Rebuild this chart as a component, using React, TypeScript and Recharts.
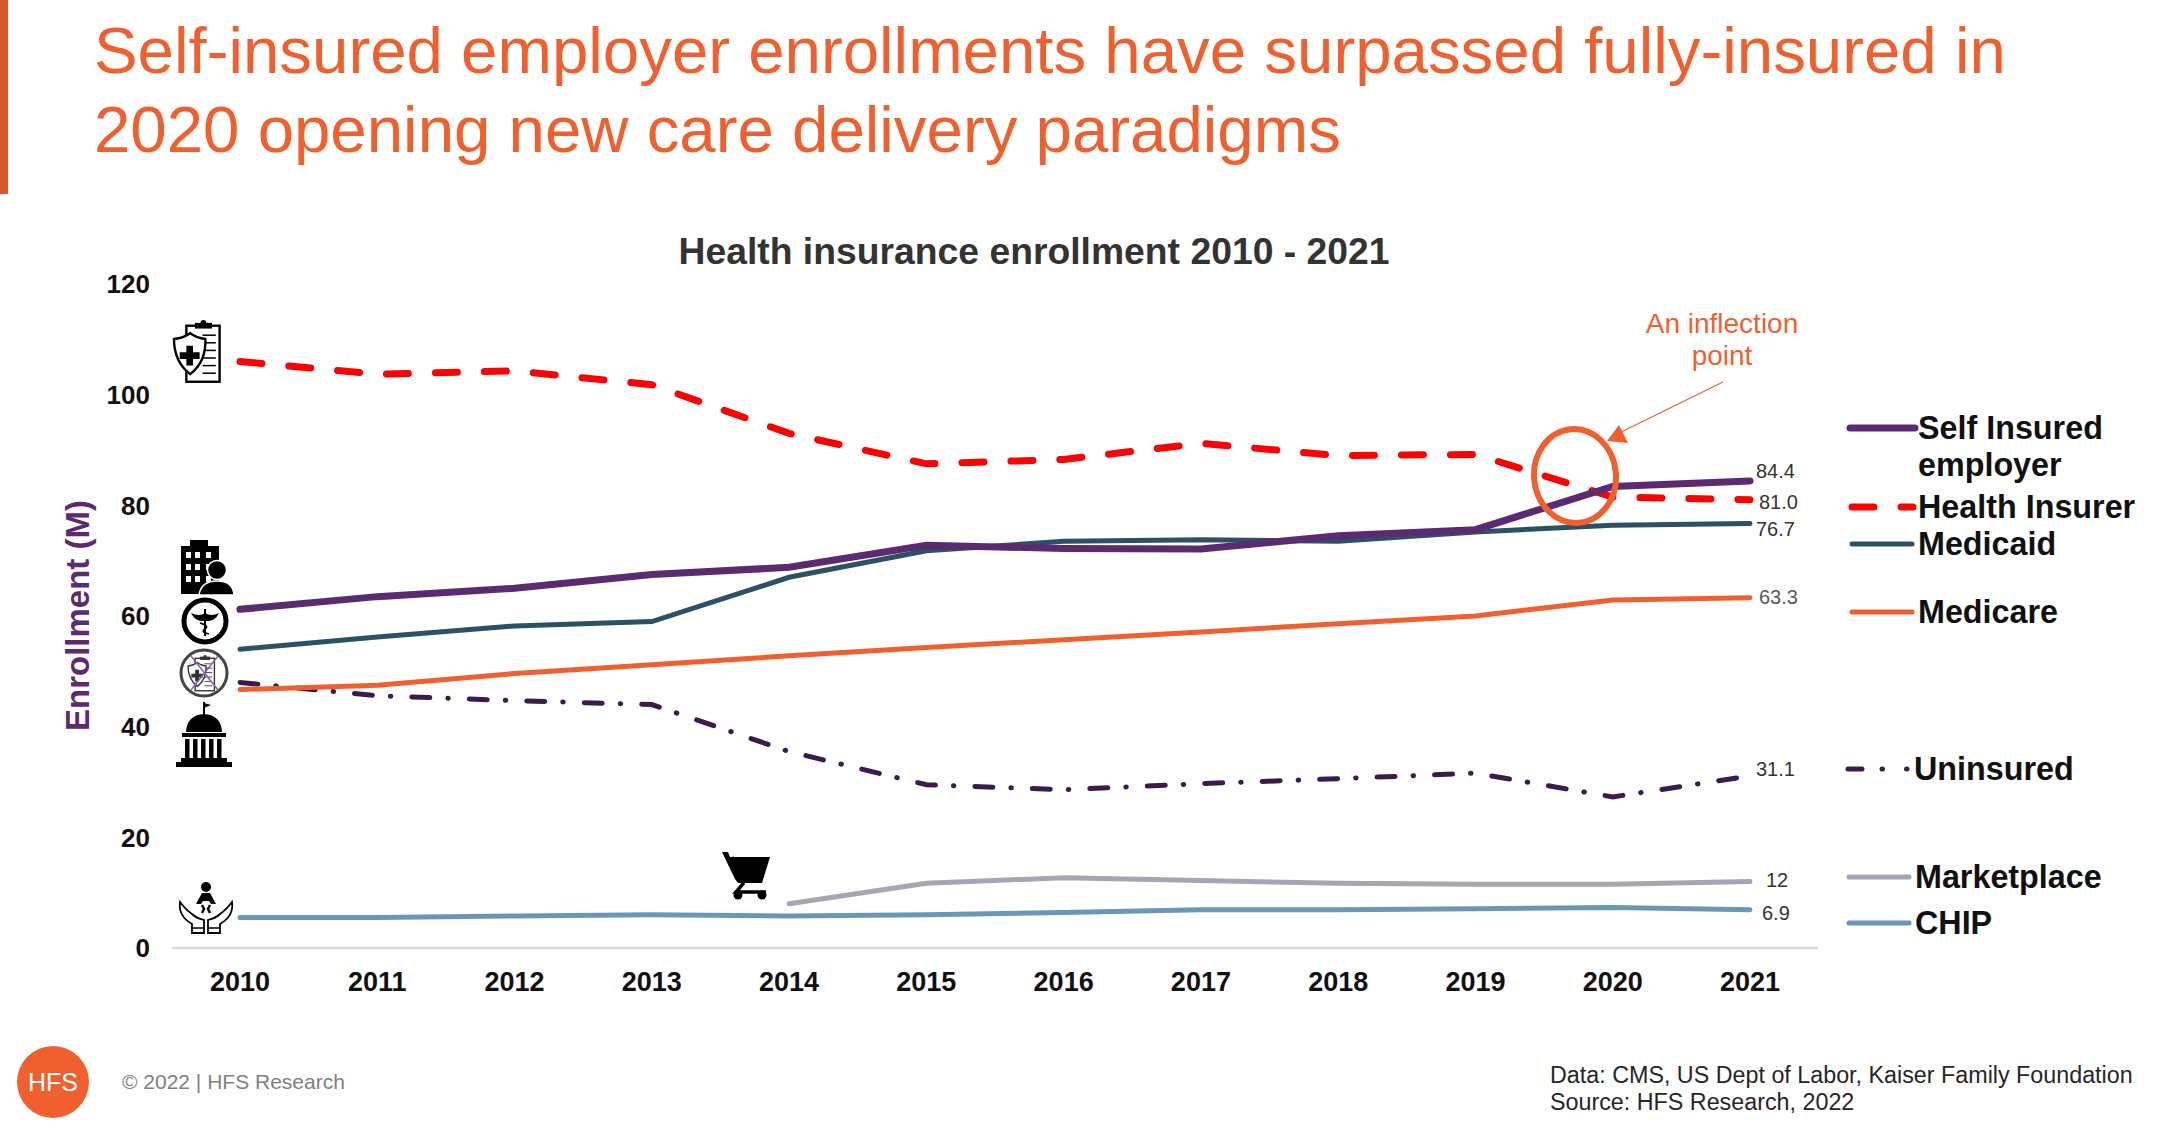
import React from "react";
import { LineChart, Line, XAxis, YAxis } from "recharts";

const years = ["2010","2011","2012","2013","2014","2015","2016","2017","2018","2019","2020","2021"];
const selfInsured = [61.2,63.5,65,67.5,68.8,72.8,72.2,72.1,74.5,75.6,83.4,84.4];
const healthInsurer = [106,103.7,104.3,101.8,93,87.5,88.3,91.2,89,89.2,81.5,81.0];
const medicaid = [54,56.2,58.2,59,67,71.8,73.5,73.8,73.5,75.2,76.4,76.7];
const medicare = [46.7,47.5,49.6,51.2,52.8,54.3,55.7,57.1,58.6,60,62.9,63.3];
const uninsured = [48,45.6,44.7,44,35.5,29.5,28.6,29.7,30.6,31.6,27.3,31.1];
const marketplace = [null,null,null,null,8,11.7,12.7,12.2,11.7,11.5,11.5,12];
const chip = [5.5,5.5,5.8,6,5.8,6,6.4,6.9,6.9,7.1,7.3,6.9];
const yTicks = [0,20,40,60,80,100,120];

const data = years.map((year, i) => ({
  year,
  selfInsured: selfInsured[i],
  healthInsurer: healthInsurer[i],
  medicaid: medicaid[i],
  medicare: medicare[i],
  uninsured: uninsured[i],
  marketplace: marketplace[i],
  chip: chip[i],
}));

const FONT = '"Liberation Sans", Arial, sans-serif';
const ORANGE = "#F0602F";

const endLabel = (text: string, dx: number, dy: number, fill = "#333333") => (p: any) =>
  p.index === years.length - 1 ? (
    <text x={p.x + dx} y={p.y + dy} fill={fill} fontSize={20} fontFamily={FONT} dominantBaseline="central">{text}</text>
  ) : null;

const legendRows = [
  { label: ["Self Insured", "employer"], y: 428, tx: 1918, x1: 1850, x2: 1915, color: "#5B2A71", w: 7 },
  { label: ["Health Insurer"], y: 507, tx: 1918, x1: 1852, x2: 1913, color: "#FF0000", w: 7, dash: "22 27" },
  { label: ["Medicaid"], y: 544, tx: 1918, x1: 1852, x2: 1912, color: "#2C5068", w: 5 },
  { label: ["Medicare"], y: 612, tx: 1918, x1: 1852, x2: 1912, color: ORANGE, w: 5 },
  { label: ["Uninsured"], y: 769, tx: 1914, x1: 1848, x2: 1909, color: "#3B1B4B", w: 5, dash: "14 20 0.5 24 0.5 24" },
  { label: ["Marketplace"], y: 877, tx: 1915, x1: 1849, x2: 1909, color: "#A5A5B4", w: 5 },
  { label: ["CHIP"], y: 923, tx: 1915, x1: 1849, x2: 1909, color: "#6897B7", w: 5 },
];

const ClipboardShield = ({ x, y, s = 1, color = "#000" }: any) => (
  <g transform={`translate(${x} ${y}) scale(${s})`}>
    <rect x="13" y="6" width="35" height="59" fill="#fff" stroke={color} strokeWidth="2.5" />
    <rect x="22" y="3" width="18" height="6" fill={color} />
    <circle cx="31" cy="3" r="3" fill={color} />
    {[16, 24, 32, 40, 48, 56].map((ly) => <line key={ly} x1="30" x2="44" y1={ly} y2={ly} stroke={color} strokeWidth="1.6" />)}
    <path d="M0 20 Q10 19 17 14 Q24 19 33 20 Q34 44 17 57 Q0 44 0 20Z" fill="#fff" stroke={color} strokeWidth="2.5" />
    <path d="M13 27h7v7h7v7h-7v7h-7v-7h-7v-7h7z" fill={color} />
  </g>
);

const Icons = () => (
  <g>
    <ClipboardShield x={174} y={320} s={0.95} />
    {/* building and person */}
    <g transform="translate(181 540)">
      <rect x="0" y="6" width="38" height="48" fill="#000" />
      <rect x="9" y="0" width="18" height="8" fill="#000" />
      {[12, 24, 36].map((wy) => [5, 14, 25].map((wx) => <rect key={`${wx}-${wy}`} x={wx} y={wy} width="5" height="6" fill="#fff" />))}
      <circle cx="36" cy="30" r="9.5" fill="#000" stroke="#fff" strokeWidth="1.5" />
      <path d="M18 55 Q20 41 36 41 Q52 41 53 55Z" fill="#000" stroke="#fff" strokeWidth="1.5" />
    </g>
    {/* caduceus */}
    <g transform="translate(205 621)">
      <circle r="21" fill="#fff" stroke="#000" strokeWidth="5" />
      <line x1="0" y1="-12" x2="0" y2="15" stroke="#000" strokeWidth="2" />
      <path d="M-14 -8 Q-6 -4 0 -8 Q6 -4 14 -8 Q10 0 3 0 L-3 0 Q-10 0 -14 -8Z" fill="#000" />
      <path d="M-5 2 Q5 5 0 8 Q-5 11 4 13" fill="none" stroke="#000" strokeWidth="1.5" />
    </g>
    {/* no insurance */}
    <g transform="translate(204 673)">
      <circle r="23" fill="#fff" stroke="#444" strokeWidth="3" />
      <ClipboardShield x={-16} y={-18} s={0.55} color="#333" />
      <line x1="-13" y1="-17" x2="14" y2="17" stroke="#8A5FA8" strokeWidth="1.5" />
      <line x1="14" y1="-17" x2="-13" y2="17" stroke="#8A5FA8" strokeWidth="1.5" />
    </g>
    {/* government */}
    <g transform="translate(176 702)">
      <line x1="28" y1="0" x2="28" y2="14" stroke="#000" strokeWidth="2" />
      <path d="M28 1 l7 2 l-7 3z" fill="#000" />
      <path d="M10 30 Q11 13 28 12 Q45 13 46 30Z" fill="#000" />
      <rect x="6" y="31" width="44" height="4" fill="#000" />
      {[9, 17, 25, 33, 41].map((cx) => <rect key={cx} x={cx} y="37" width="4.5" height="19" fill="#000" />)}
      <rect x="5" y="56" width="46" height="4" fill="#000" />
      <rect x="0" y="60" width="56" height="5" fill="#000" />
    </g>
    {/* hands and baby */}
    <g transform="translate(206 882)">
      <circle cx="0" cy="5" r="5" fill="#000" />
      <path d="M-4 11 h8 l6 11 h-5 l-2 -3 h-6 l-2 3 h-5z" fill="#000" />
      <path d="M-4 23 l2 4 l-2 4 M4 23 l-2 4 l2 4" fill="none" stroke="#000" strokeWidth="2.5" />
      {[-1, 1].map((d) => (
        <path key={d} d={`M${d * 26} 20 Q${d * 28} 34 ${d * 14} 42 L${d * 14} 51 L${d * 2} 51 L${d * 2} 38 Q${d * 10} 36 ${d * 14} 32 Q${d * 20} 28 ${d * 26} 20Z`} fill="#fff" stroke="#000" strokeWidth="1.8" />
      ))}
      <line x1="-14" x2="-2" y1="46" y2="46" stroke="#000" strokeWidth="1.5" />
      <line x1="14" x2="2" y1="46" y2="46" stroke="#000" strokeWidth="1.5" />
    </g>
    {/* cart */}
    <g transform="translate(722 852)">
      <path d="M0 0 h6 l2 5 h40 l-8 26 h-24 l-3 -4 z" fill="#000" />
      <path d="M10 5 L21 32 L14 40 H44" fill="none" stroke="#000" strokeWidth="3.5" />
      <circle cx="16" cy="43" r="4.5" fill="#000" />
      <circle cx="40" cy="43" r="4.5" fill="#000" />
    </g>
  </g>
);

const Overlay = () => (
  <svg width={2163} height={1130} style={{ position: "absolute", left: 0, top: 0, pointerEvents: "none" }} fontFamily={FONT}>
    <rect x={0} y={0} width={8} height={194} fill="#D8572F" />
    <text x={94} y={73} fontSize={65.4} fill={ORANGE}>Self-insured employer enrollments have surpassed fully-insured in</text>
    <text x={94} y={152} fontSize={65.4} fill={ORANGE}>2020 opening new care delivery paradigms</text>
    <text x={1034} y={251} fontSize={37.3} fontWeight="bold" fill="#333333" textAnchor="middle" dominantBaseline="central">Health insurance enrollment 2010 - 2021</text>

    <Icons />

    <ellipse cx={1575} cy={476} rx={41} ry={47} fill="none" stroke={ORANGE} strokeWidth={6} transform="rotate(-5 1575 476)" />
    <line x1={1723} y1={382} x2={1615} y2={435} stroke={ORANGE} strokeWidth={1.2} />
    <path d="M1607 441 L1619 425 L1628 443 Z" fill={ORANGE} />
    <text x={1722} y={323} fontSize={28} fill={ORANGE} textAnchor="middle" dominantBaseline="central">An inflection</text>
    <text x={1722} y={355} fontSize={28} fill={ORANGE} textAnchor="middle" dominantBaseline="central">point</text>

    {legendRows.map((r) => (
      <g key={r.label[0]}>
        <line x1={r.x1} x2={r.x2} y1={r.y} y2={r.y} stroke={r.color} strokeWidth={r.w} strokeLinecap="round" strokeDasharray={r.dash} />
        {r.label.map((t, i) => (
          <text key={t} x={r.tx} y={r.y + i * 37} fontSize={32.3} fontWeight="bold" fill="#111111" dominantBaseline="central">{t}</text>
        ))}
      </g>
    ))}

    <circle cx={53} cy={1082} r={36} fill={ORANGE} />
    <text x={53} y={1082} fontSize={25} fill="#fff" textAnchor="middle" dominantBaseline="central">HFS</text>
    <text x={122} y={1081} fontSize={21} fill="#7F7F7F" dominantBaseline="central">© 2022 | HFS Research</text>
    <text x={1550} y={1075} fontSize={23.3} fill="#262626" dominantBaseline="central">Data: CMS, US Dept of Labor, Kaiser Family Foundation</text>
    <text x={1550} y={1102} fontSize={23.3} fill="#262626" dominantBaseline="central">Source: HFS Research, 2022</text>
  </svg>
);

export default function App() {
  return (
    <div style={{ position: "absolute", left: 0, top: 0, width: 2163, height: 1130, background: "#fff", overflow: "hidden" }}>
      <LineChart width={2163} height={1130} data={data} margin={{ top: 284, right: 345, bottom: 142, left: 112 }}>
        <XAxis
          dataKey="year"
          height={40}
          padding={{ left: 68, right: 68 }}
          axisLine={{ stroke: "#D9D9D9", strokeWidth: 2.5 }}
          tickLine={false}
          tickSize={0}
          tickMargin={24}
          interval={0}
          tick={{ fontSize: 27, fontWeight: "bold", fill: "#111111", fontFamily: FONT }}
        />
        <YAxis
          width={60}
          domain={[0, 120]}
          ticks={yTicks}
          axisLine={false}
          tickLine={false}
          tickSize={0}
          tickMargin={22}
          tick={{ fontSize: 26, fontWeight: "bold", fill: "#111111", fontFamily: FONT }}
          label={{ value: "Enrollment (M)", angle: -90, position: "insideLeft", dx: -40, dy: 115, style: { fontSize: 33, fontWeight: "bold", fill: "#5B2A71", fontFamily: FONT } }}
        />
        <Line dataKey="chip" stroke="#6897B7" strokeWidth={5} strokeLinecap="round" dot={false} isAnimationActive={false} label={endLabel("6.9", 12, 3)} />
        <Line dataKey="marketplace" stroke="#A5A5B4" strokeWidth={5} strokeLinecap="round" dot={false} isAnimationActive={false} label={endLabel("12", 16, -2)} />
        <Line dataKey="uninsured" stroke="#3B1B4B" strokeWidth={5} strokeLinecap="round" strokeDasharray="18 18 0.5 21" dot={false} isAnimationActive={false} label={endLabel("31.1", 6, -7)} />
        <Line dataKey="medicare" stroke={ORANGE} strokeWidth={5} strokeLinecap="round" dot={false} isAnimationActive={false} label={endLabel("63.3", 9, -1, "#595959")} />
        <Line dataKey="medicaid" stroke="#2C5068" strokeWidth={5} strokeLinecap="round" dot={false} isAnimationActive={false} label={endLabel("76.7", 6, 5)} />
        <Line dataKey="healthInsurer" stroke="#FF0000" strokeWidth={7} strokeLinecap="round" strokeDasharray="22 27" dot={false} isAnimationActive={false} label={endLabel("81.0", 9, 2)} />
        <Line dataKey="selfInsured" stroke="#5B2A71" strokeWidth={7} strokeLinecap="round" dot={false} isAnimationActive={false} label={endLabel("84.4", 6, -10)} />
      </LineChart>
      <Overlay />
    </div>
  );
}
